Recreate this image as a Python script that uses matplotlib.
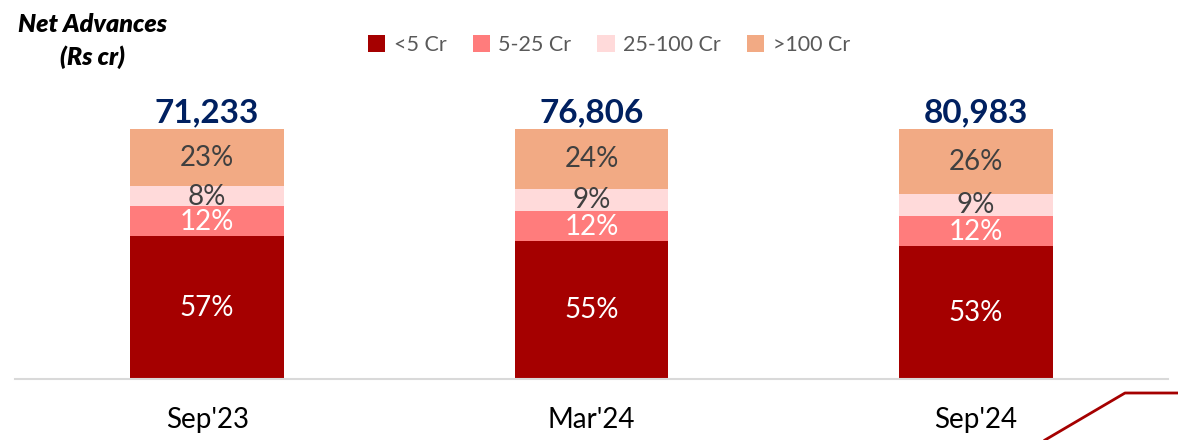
import matplotlib.pyplot as plt
import numpy as np
from matplotlib.lines import Line2D

plt.rcParams['font.family'] = ['Lato', 'DejaVu Sans']

periods = ["Sep'23", "Mar'24", "Sep'24"]
totals = ['71,233', '76,806', '80,983']
segments = ['<5 Cr', '5-25 Cr', '25-100 Cr', '>100 Cr']
lt5 = [57, 55, 53]
s5_25 = [12, 12, 12]
s25_100 = [8, 9, 9]
gt100 = [23, 24, 26]

colors = ['#A50000', '#FF7C7C', '#FFDADA', '#F2AA84']
text_colors = ['white', 'white', '#404040', '#404040']

fig = plt.figure(figsize=(11.78, 4.4), dpi=100)
ax = fig.add_axes([15 / 1178, 61 / 440, 1153 / 1178, 300 / 440])

x = np.arange(len(periods))
bottom = np.zeros(len(periods))
for vals, name, c, tc in zip([lt5, s5_25, s25_100, gt100], segments, colors, text_colors):
    vals = np.array(vals, dtype=float)
    ax.bar(x, vals, 0.4, bottom=bottom, color=c, label=name)
    for xi, b, v in zip(x, bottom, vals):
        ax.text(xi, b + v / 2, f'{int(v)}%', ha='center', va='center',
                fontsize=20, color=tc)
    bottom += vals

for xi, t, top in zip(x, totals, bottom):
    ax.text(xi, top + 0.5, t, ha='center', va='bottom', fontsize=24,
            fontweight='bold', color='#002060')

ax.set_xlim(-0.5, 2.5)
ax.set_ylim(0, 120)
ax.set_xticks(x)
ax.set_xticklabels(periods, fontsize=20, color='black')
ax.tick_params(axis='x', length=0, pad=20)
ax.set_yticks([])
for s in ['top', 'left', 'right']:
    ax.spines[s].set_visible(False)
ax.spines['bottom'].set_color('#D9D9D9')
ax.spines['bottom'].set_linewidth(1.5)

leg = ax.legend(loc='center', ncol=4, frameon=False,
                fontsize=15.5, handlelength=0.8, handleheight=0.8, columnspacing=1.2,
                handletextpad=0.4)
leg.set_bbox_to_anchor((609 / 1178, 1 - 45 / 440), transform=fig.transFigure)
for t in leg.get_texts():
    t.set_color('#595959')

fig.text(93 / 1178, 1 - 25 / 440, 'Net Advances', ha='center', va='center',
         fontsize=18, fontweight='heavy', fontstyle='italic')
fig.text(93 / 1178, 1 - 57 / 440, '(Rs cr)', ha='center', va='center',
         fontsize=18, fontweight='heavy', fontstyle='italic')

fig.add_artist(Line2D([1045 / 1178, 1125 / 1178, 1.0],
                      [0, 1 - 393 / 440, 1 - 393 / 440],
                      transform=fig.transFigure, color='#A50000', lw=2))

fig.savefig('out.png', dpi=100)
